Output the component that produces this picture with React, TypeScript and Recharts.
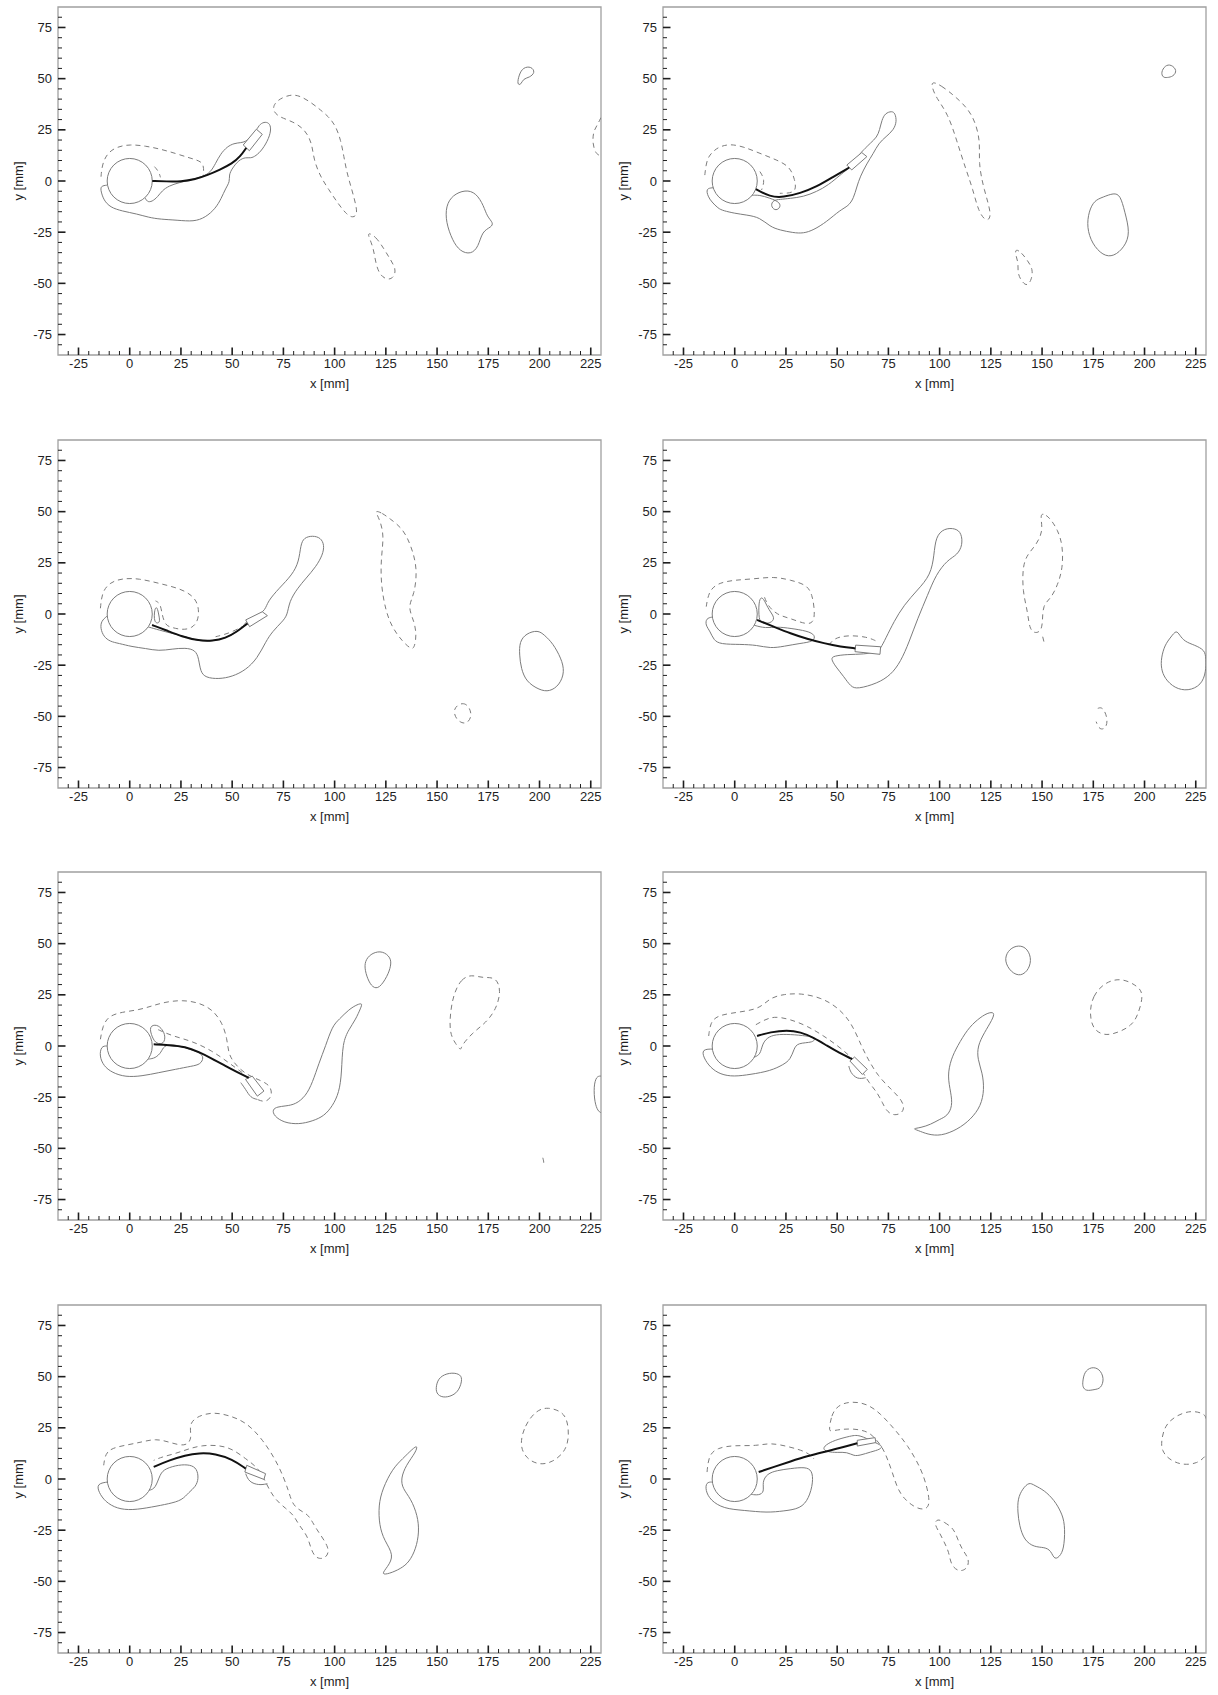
import React from "react";
import {
  ScatterChart,
  Scatter,
  XAxis,
  YAxis,
  ReferenceArea,
  Label,
} from "recharts";

type Pt = [number, number];

// axis extents (mm) and tick values
const X_MIN = -35;
const X_MAX = 230;
const Y_MIN = -85;
const Y_MAX = 85;
const X_MAJOR = [-25, 0, 25, 50, 75, 100, 125, 150, 175, 200, 225];
const Y_MAJOR = [-75, -50, -25, 0, 25, 50, 75];
const X_TICKS = [
  -30, -25, -20, -15, -10, -5, 0, 5, 10, 15, 20, 25, 30, 35, 40, 45, 50, 55,
  60, 65, 70, 75, 80, 85, 90, 95, 100, 105, 110, 115, 120, 125, 130, 135, 140,
  145, 150, 155, 160, 165, 170, 175, 180, 185, 190, 195, 200, 205, 210, 215,
  220, 225,
];
const Y_TICKS = [
  -80, -75, -70, -65, -60, -55, -50, -45, -40, -35, -30, -25, -20, -15, -10,
  -5, 0, 5, 10, 15, 20, 25, 30, 35, 40, 45, 50, 55, 60, 65, 70, 75, 80,
];
const CYLINDER_R = 11; // mm

// ---- frame 1 ----
const f1Lower: Pt[] = [[-10.8,-2],[-14.3,-2.4],[-14,-5.2],[-12.7,-9.3],[-9.5,-12.9],[-3.7,-14.7],[3.6,-16.1],[9.3,-17.8],[15,-18.7],[23.1,-19.1],[31.3,-19.9],[37,-17.8],[41.9,-13.4],[44.7,-8.5],[46.8,-3.6],[48.9,-0.3],[48.4,2.9],[50,6.2],[53.3,10.3],[56.6,11.6],[59,11.1],[61.5,12.2],[64.7,15.2],[68,20.9],[69.1,25.8],[68,28.5],[65.5,28.9],[63.1,27.4],[61.5,24.1],[59,21.4],[56.6,19.2],[54.1,18.7],[50.9,18.4],[47.6,16.8],[44.3,13.2],[41.9,8.6],[39.4,4.1],[35.4,2.1],[29.7,0.5],[24,-0.8],[19.1,-2.4],[15.8,-4.7],[13.7,-7.7],[10.9,-10.1],[8.5,-10.3],[7.5,-8.1]];
const f1Upper: Pt[] = [[-14,2.1],[-13.5,7.8],[-11.1,13.5],[-6.2,16.8],[0.3,17.9],[7.7,17.1],[15,15.6],[22.3,13.5],[29.7,11.1],[35.4,9.5],[36.2,6.2],[35.9,2.4]];
const f1UpperIn: Pt[] = [[12.1,7],[14.2,4.6],[15,1.8]];
const f1Shed: Pt[] = [[69.4,35.5],[71.9,39.6],[78.4,42.4],[83.3,41.6],[89,38],[93.1,34.7],[97,31.5],[100.5,27],[103,20],[104.5,12],[106,4],[108.4,-4.2],[110.5,-12],[111,-16.4],[109,-18],[106,-16.5],[102,-11.5],[97,-4],[93.1,2.1],[89.8,10.3],[89,18.4],[85.7,24.9],[80,29],[71.9,31.5]];
const f1Small: Pt[] = [[116,-25],[120,-27],[124,-33],[127,-38],[130,-43],[129,-47],[126,-48.5],[122,-46],[120,-40],[119,-33],[117,-28]];
const f1Vortex: Pt[] = [[157.5,-6.9],[163.8,-4.2],[169.1,-5.8],[172.8,-12.2],[174.4,-17.4],[177.5,-20.5],[176.5,-22.5],[172,-24.5],[170.2,-32.2],[166.5,-35.9],[161.2,-34.4],[157.5,-29.1],[154.3,-20.1],[154.3,-12.2]];
const f1Top: Pt[] = [[189,47],[190,52],[192,55.5],[196,56],[198,53],[195,50.5],[192,50],[191,47]];
const f1Edge: Pt[] = [[230,31],[228,27],[226.3,24.2],[225.8,18.5],[227.5,13],[230,12.4]];
const f1Plate: Pt[] = [[11,0],[18,-0.2],[25,-0.3],[32,0.8],[38,2.9],[44,5.5],[50,8.5],[54,12],[56.9,16.2]];
const f1Tail: Pt[] = [[55.4,17.6],[61.8,25.3],[64.7,22.8],[58.4,14.8]];

// ---- frame 2 ----
const f2Lower: Pt[] = [[-10.5,-3.3],[-14.1,-3.6],[-13,-7.7],[-11.3,-10.1],[-8.1,-13.4],[-5.6,-14.5],[0,-15.8],[5.8,-16.6],[12.3,-17.8],[17.2,-22.3],[22.1,-24],[28.6,-25.3],[33.5,-25.6],[38.4,-24],[44.9,-19.9],[51.4,-14.2],[55.5,-12.2],[58,-8.5],[59.6,-2.8],[61.2,2.1],[64.5,8.6],[67.7,13.5],[70.2,18.4],[73.9,21.7],[77.5,24.9],[79.1,29],[78.3,33.1],[76.7,34.2],[73.4,33.1],[71.8,29.8],[70.7,24.9],[69.4,21.4],[66.1,18.4],[63.7,16],[61.2,13.5],[57.9,8.6],[54.7,5.4],[51.4,2.9],[45.7,-2],[40,-5.2],[33.5,-7.7],[27,-8.5],[22.1,-9],[18.8,-9.3],[17.5,-12],[19.5,-14.5],[22,-13.5],[22.5,-10.5],[17,-8.3],[12,-6.8],[8.5,-7]];
const f2Upper: Pt[] = [[-14.6,2.9],[-14,8],[-12.9,11.9],[-10,15],[-7.3,16.8],[-2.4,18.1],[4.2,16.8],[12.3,13.5],[20.5,10.3],[27,7],[29.4,0.5],[30,-4.5],[27,-6],[22,-6]];
const f2UpperIn: Pt[] = [[12.3,4.6],[14.8,0.5],[13.1,-4.4]];
const f2Shed: Pt[] = [[96.2,48.6],[100.4,47],[108.4,40.7],[116.3,32.8],[120,19.6],[118.9,9],[121.6,-4.2],[125.8,-17.4],[122.7,-20.1],[118.9,-14.8],[116.3,-4.2],[112.6,6.3],[108.4,19.6],[104.1,32.8],[98.3,40.7],[96.2,46]];
const f2Small: Pt[] = [[137,-33],[140,-35],[143,-39],[145.5,-43],[145,-48],[142.7,-51.6],[140,-49],[138,-45],[138.5,-40],[137,-36]];
const f2Vortex: Pt[] = [[175.5,-9.5],[179.7,-7.9],[185,-5.8],[188.2,-6.9],[190.3,-14.8],[193,-25.4],[190.3,-32.2],[185,-37],[179.7,-36.5],[174.4,-30.7],[171.8,-22.7],[172.8,-14.8]];
const f2Top: Pt[] = [[208,53],[210,56.5],[213,57],[216,54],[214,51],[211,50.5],[209,50.5]];
const f2Plate: Pt[] = [[10.3,-4],[17.2,-7.7],[23.7,-8],[31.9,-6],[40,-2.8],[48.2,2.1],[55.9,6.6]];
const f2Tail: Pt[] = [[54.7,7.8],[62,13.9],[64.5,11.9],[57.1,5.4]];

// ---- frame 3 ----
const f3Lower: Pt[] = [[-11,-1],[-13.9,-3.4],[-14.3,-7],[-12.7,-11.1],[-9.5,-13.5],[-5.4,-14.3],[1.1,-16],[7.7,-16.8],[14.2,-18.1],[20.7,-17.1],[27.2,-16.5],[32.1,-17.6],[33.7,-21.7],[34.5,-28.2],[37,-31.1],[43.5,-31.8],[50,-30.6],[56.6,-27.4],[62.3,-21.7],[66.4,-13.5],[69.6,-8.6],[74.5,-3.7],[77,-0.5],[77.8,6],[81.9,12.6],[86,17.4],[90.9,23.1],[94.2,28.9],[95,33.7],[93.2,37.3],[89.2,38.3],[85,37.3],[83.4,33.7],[82.6,25.6],[79.3,19.1],[72.9,12.6],[67.2,6],[66.3,2],[62,-1],[57,-3],[55,-7],[50,-10.3],[43.5,-12.7],[37,-13.5],[32.1,-12.7],[27.2,-11.1],[20.7,-9.5],[14.2,-7.8],[9,-6.3]];
const f3Finger: Pt[] = [[11.7,-4.6],[12.1,2.8],[13.4,3.6],[14.2,-0.5],[15,-4.6]];
const f3Upper: Pt[] = [[-14.3,2.8],[-13.5,10.9],[-9.5,15.5],[-3.7,17.4],[4.4,17.4],[14.2,15],[24,12.6],[30.5,9.3],[33.7,4.4],[33.7,-2.9],[30.5,-7],[25.6,-7.8],[20,-6.5],[17.4,-5.4],[15.8,-0.5],[15,5.2],[12.6,6.4]];
const f3UpperIn: Pt[] = [[41.9,-11.1],[48.4,-9.5],[54.9,-6.2]];
const f3Shed: Pt[] = [[119.3,50.9],[123.4,49.2],[126.6,46.8],[133.2,41.9],[137.2,33.7],[140.5,22.3],[138.9,9.3],[135.6,3.6],[138.9,-3.7],[140,-10.3],[138.9,-16.8],[137.2,-17.1],[133.2,-13.5],[128.3,-7],[125,1.1],[122.6,14.2],[122.6,27.2],[124.2,38.6],[121.8,46.8]];
const f3Small: Pt[] = [[157.6,-46.1],[162.5,-42.9],[165.8,-45.3],[167.1,-50.2],[164.1,-54.3],[159.2,-51.8]];
const f3Vortex: Pt[] = [[190.2,-13.5],[193.5,-9.5],[199.2,-7.8],[202.4,-10.3],[206.5,-14.3],[210.6,-21.7],[212.3,-28.2],[209.8,-34.7],[204.9,-38],[200,-37.2],[193.5,-33.1],[191,-26.6],[190.2,-20.1]];
const f3Plate: Pt[] = [[10.9,-5.4],[17.4,-7.8],[25.6,-11.1],[33.7,-13],[40.3,-13.2],[46.8,-11.9],[52.5,-8.5],[57.5,-4.6]];
const f3Tail: Pt[] = [[56.6,-2.9],[64.7,1.1],[67.2,-0.8],[58.5,-6.2]];

// ---- frame 4 ----
const f4Lower: Pt[] = [[-11,-1.5],[-13.9,-2.1],[-14.3,-5.4],[-11.9,-8.6],[-10.3,-12.7],[-7,-14.8],[2.8,-14.8],[10.9,-15.2],[17.4,-16.8],[24,-15.8],[32.1,-14.3],[38.6,-13.5],[39.4,-10.3],[35.5,-8.3],[27.2,-7],[20.7,-6.2],[15,-7],[9.5,-5.5]];
const f4Finger: Pt[] = [[11.7,-2.9],[11.7,6],[12.9,8.5],[14.5,6.8],[16.6,2],[19.9,-2.1],[17.4,-4.6],[13.4,-4.6]];
const f4Arm: Pt[] = [[46.8,-21.7],[49.3,-25.8],[53.3,-30.6],[56.6,-35.5],[59.8,-36.7],[69.6,-33.9],[76.2,-29.8],[81,-23.3],[85.2,-13.5],[89.3,-2.1],[94.2,9.3],[98.1,19.1],[103.8,26.4],[108.7,28.9],[111.2,33.7],[110.7,39.4],[107.9,41.9],[102.2,41.9],[98.1,37.8],[97.3,28.9],[95.7,19.1],[89.2,11.7],[82.6,4.4],[77.7,-3.7],[73.7,-11.9],[71.2,-16.8],[69.6,-18.4],[63.1,-19.7],[54.9,-19.7],[48.4,-20.5]];
const f4Upper: Pt[] = [[-13.9,3.6],[-12.7,10.9],[-8.6,15],[-0.5,16.6],[9.3,17.1],[19.1,18.3],[27.2,16.6],[35.4,14.2],[37.8,9.3],[38.9,2.8],[38.9,-3.7],[35.4,-5.4],[27.2,-2.1],[20.7,-0.5],[15.8,4.4],[14.2,9.3]];
const f4UpperIn: Pt[] = [[46,-15.2],[48.4,-11.9],[54.9,-10.3],[64.7,-11.1],[69.6,-13.5]];
const f4Shed: Pt[] = [[149.5,49.2],[152,48.4],[154.4,46],[157.6,41.1],[160.1,33.7],[160.1,22.3],[157.6,14.2],[154.4,7.7],[150.3,4.4],[150.3,-3.7],[149.5,-8.6],[146.2,-9.5],[143.8,-7],[143,1.1],[140.5,10.9],[140.5,23.6],[143,29.3],[147.1,33.7],[150.3,40.2],[149.5,46]];
const f4ShedTip: Pt[] = [[150.3,-11.1],[151.1,-14.3]];
const f4Small: Pt[] = [[177.2,-46.1],[179.6,-45.3],[182.1,-51],[181.3,-55.9],[178,-56.7],[176.4,-52.6]];
const f4Vortex: Pt[] = [[208.1,-21.7],[209.8,-15.2],[213,-11.1],[215.5,-7.8],[217.1,-10.3],[219.6,-13.5],[224.5,-15.2],[229.4,-17.6],[230,-21.7],[230,-28.2],[227.8,-34.7],[221.3,-37.7],[214.7,-36.3],[209.8,-31.5],[208.1,-26.6]];
const f4Plate: Pt[] = [[10.9,-2.9],[19.1,-6.2],[27.2,-9.5],[35.4,-12.2],[43.5,-14.3],[51.8,-16],[58.9,-16.8]];
const f4Tail: Pt[] = [[59,-15.2],[71.2,-16],[70.9,-19.7],[58.7,-18.4]];

// ---- frame 5 ----
const f5Lower: Pt[] = [[-11,0],[-13.9,0],[-14.8,-4.9],[-12.7,-9.8],[-8.6,-13],[-2.1,-15.2],[6,-14.7],[14.2,-13],[22.3,-11.4],[30.5,-9.8],[34.5,-9],[36.2,-5.7],[34.5,-3.3],[27.2,-0.8],[20.7,1],[16.5,0],[15.5,-3],[12.5,-6],[9,-6.4]];
const f5Finger: Pt[] = [[9.3,9.8],[13.4,10.6],[16,8],[17.4,5],[16.8,1],[13,1],[11,4]];
const f5TailFringe: Pt[] = [[54.2,-17.9],[56.6,-21.2],[59,-25.3],[62.3,-26.1]];
const f5Upper: Pt[] = [[-14.3,3.3],[-13.2,9.8],[-10.3,14.7],[-3.7,16.6],[4.4,17.6],[10.9,19.6],[17.4,21.5],[25.6,22.5],[33.7,21.2],[40.3,17.9],[45.2,11.4],[47.6,3.3],[48.1,-3.3],[50.7,-8.2],[56.5,-13.9],[64.7,-17.1],[68.8,-19.6],[69.6,-24.5],[66.3,-27.7],[62.3,-26.1]];
const f5UpperIn: Pt[] = [[54.9,-13],[48.4,-8.2],[40.3,-2.4],[30.5,2.4],[20.7,4.9],[13.4,8.2]];
const f5Arm: Pt[] = [[69.6,-31],[70.4,-34.2],[75.3,-37.5],[82.6,-38.3],[89.2,-36.7],[94.9,-34.2],[99,-29.3],[102.2,-22.8],[103.5,-13],[103.8,1.6],[107,8.2],[110.3,13],[112.8,18.7],[113.6,20.9],[111.2,20.4],[107,17.9],[102.2,13],[98.9,9.8],[95.6,0],[92.4,-8.2],[89.2,-17.9],[85.9,-24.5],[81,-28.5],[76.1,-29.3],[72.1,-29.7]];
const f5Top: Pt[] = [[115.2,42.4],[118.5,45.6],[123.4,46.5],[127.5,43.2],[127.5,39.1],[125.8,34.2],[121.8,28],[118.5,28.5],[116.1,32.6],[114.5,38.3]];
const f5Shed: Pt[] = [[158.4,26.1],[161.7,32.6],[166.6,35],[172.3,33.1],[178.8,33.9],[181.3,26.9],[178.8,17.9],[173.9,11.4],[167.3,6.5],[161.7,0],[161.7,-2.4],[159.2,0.8],[155.9,6.5],[156.6,17.9]];
const f5Speck: Pt[] = [[201.6,-54.6],[202.4,-57.8],[201,-56.5]];
const f5Edge: Pt[] = [[230,-14.7],[227.8,-14.7],[226.4,-19.6],[226.9,-27.7],[228.5,-31.8],[230,-32.6]];
const f5Plate: Pt[] = [[11.7,0.8],[19.1,0.5],[27.2,-0.3],[33.7,-2.9],[40.3,-6.2],[46.8,-9.8],[52.5,-12.8],[58.1,-15.5]];
const f5Tail: Pt[] = [[56.5,-16.3],[59.8,-14.7],[65.5,-22],[62.3,-24.5]];

// ---- frame 6 ----
const f6Lower: Pt[] = [[-11,-1.5],[-16,-1.6],[-15.2,-5.7],[-11.9,-10.6],[-7,-13.9],[-0.5,-15],[7.7,-13.9],[17.4,-12.2],[24,-9],[27.2,-6.5],[28.9,-1.6],[30.5,1.6],[38.6,1.6],[39.4,4.1],[35.4,4.9],[27.2,5.7],[19.9,5.7],[15.8,4.1],[13.4,0.8],[12.6,-4.1],[9.5,-5.5]];
const f6TailFringe: Pt[] = [[55.7,-9.8],[56.5,-13],[59.8,-16.3],[63.9,-15.5]];
const f6Upper: Pt[] = [[-12.7,4.9],[-11.9,11.4],[-8.6,14.7],[-2.1,16],[6,17.1],[12.6,18.7],[17.4,23.6],[24,25.3],[32.1,25.8],[42.4,23.6],[50.5,18.7],[57,11.4],[61.8,0],[65.1,-6.5],[69.9,-14.7],[76.4,-21.2],[82.1,-26.9],[82.9,-31.8],[78.8,-34.2],[74.5,-32.6],[72.1,-27.7],[69.6,-22.8],[65.5,-17.9],[62,-12],[59.8,-8.2],[51.6,-0.8],[43.5,4.9],[35.4,9.8],[27.2,13],[19.1,14.7],[13.4,12.2],[9.3,9.8]];
const f6Arm: Pt[] = [[86.7,-40.4],[90.8,-39.9],[95.7,-38.3],[99.8,-35.9],[103.8,-34.2],[106.3,-29.3],[105.5,-22.8],[103.8,-14.7],[105.5,-6.5],[108.7,0],[113.6,8.2],[118.5,13],[123.4,16.3],[127,16.6],[125.8,13],[121.8,6.5],[118.5,0],[118.5,-6.5],[120.9,-13],[121.8,-21.2],[120.2,-29.3],[115.2,-35.9],[108.7,-40.8],[100.6,-44],[94.1,-43.2],[89.2,-41.1]];
const f6Top: Pt[] = [[131.5,41.6],[133.2,46.5],[137.2,49.2],[142.1,48.6],[144.9,43.2],[143.7,37.5],[139.7,33.9],[134.8,35.9]];
const f6Shed: Pt[] = [[173.1,16.3],[174.7,24.5],[180.4,31],[188.6,33.4],[196.7,29.3],[199.7,25.3],[196.7,14.7],[193.5,9.8],[187,6.5],[180.4,4.9],[174.7,8.2]];
const f6Plate: Pt[] = [[10.9,4.9],[17.4,6.8],[25.6,7.8],[32.1,6.8],[38.6,4.1],[45.2,0],[50.9,-3.3],[57.3,-6.4]];
const f6Tail: Pt[] = [[56.2,-7.3],[58.5,-5.4],[64.7,-11.4],[62.3,-13.9]];

// ---- frame 7 ----
const f7Lower: Pt[] = [[-11,-1.5],[-16,-2.3],[-15.2,-6.4],[-11.9,-11.2],[-6.2,-14.5],[1.1,-15.3],[10.9,-13.7],[19.1,-12.1],[25.6,-10.4],[28.9,-6.4],[32.1,-3.9],[33.7,0.2],[32.8,5.1],[29.6,7],[24,7],[17.4,5.1],[14.8,2.6],[12.6,-4.7],[9.5,-5.5]];
const f7TailFringe: Pt[] = [[56.6,2.6],[58.2,-1.5],[63.1,-3.1],[67.2,-2.3]];
const f7Upper: Pt[] = [[-12.7,6.7],[-11.9,12.4],[-8.6,15.2],[-0.5,16.8],[6,18.1],[12.6,19.7],[19.1,18.1],[27.2,15.6],[30.5,19.7],[28.9,26.2],[32.1,30.3],[40.3,32.8],[48.4,31.1],[56.6,27.9],[64.7,19.7],[72.9,6.7],[77.8,-6.4],[79.5,-12.9],[84.4,-16.1],[87.6,-17.8],[90.8,-24.3],[98.1,-34.1],[95.7,-39],[90.8,-39],[88.4,-34.1],[86.7,-27.5],[82.6,-22.7],[80.2,-17.8],[76.3,-14.5],[70.4,-9.6],[66.3,-1.5],[63.1,5.1],[56.6,9.9],[50,14.8],[43.5,16.5],[35.4,16.5],[28.9,14.8],[22.3,12.4],[15.8,10.8],[11.7,9.1]];
const f7Arm: Pt[] = [[122.6,-46.8],[125.8,-43],[129.1,-37.3],[124.2,-30],[121.8,-22.7],[121.4,-12.9],[123.4,-4.7],[128.3,5.1],[133.2,9.9],[138.1,14.8],[140.5,16.5],[139.7,13.2],[134.8,6.7],[132.3,0.2],[133.2,-4.7],[137.2,-9.6],[140.5,-17.8],[141.3,-25.9],[139.7,-34.1],[136.4,-40.6],[132.3,-43.8],[126.6,-46.3]];
const f7Top: Pt[] = [[149.5,45.8],[151.1,49.9],[156,52],[160.8,51.5],[162.5,49.1],[160.8,43.4],[157.6,40.6],[152.7,39.6],[149.5,41.7]];
const f7Shed: Pt[] = [[190.2,16.5],[192.7,26.2],[198.4,33.6],[204.1,35.2],[211.4,32.8],[213.8,27.9],[214.4,19.7],[212.3,13.2],[206.6,8.3],[200,6.7],[193.5,9.9]];
const f7Plate: Pt[] = [[11.7,5.9],[19.1,9.1],[27.2,11.6],[33.7,12.7],[41.9,12.4],[50,9.6],[56.6,5.1]];
const f7Tail: Pt[] = [[57.1,6.7],[66.3,2.6],[65.5,-0.2],[56.2,3.4]];

// ---- frame 8 ----
const f8Lower: Pt[] = [[-10.9,-1.5],[-13.9,-1.5],[-14.3,-5.5],[-11.9,-10.4],[-5.4,-14.5],[4.4,-15.3],[15.8,-16.5],[24,-15.6],[32.1,-14.5],[36.2,-9.6],[38.3,-1.5],[37.8,4.2],[34.5,5.9],[27.2,5.1],[20.7,4.2],[15.8,2.6],[13.4,-1.5],[14.5,-6.4],[11.7,-8],[8,-7.5]];
const f8TailSheath: Pt[] = [[42.7,14.8],[45.2,17.3],[50.2,19.4],[56.6,21],[59,21.4],[62,21],[69.6,17.3],[72.1,16.1],[71.2,14.5],[66.3,13.2],[61.3,11.6],[58.2,11.2],[54.9,13.2],[50,12.9],[45.2,13.2]];
const f8Upper: Pt[] = [[-13.5,3.4],[-12.7,11.6],[-8.6,15.2],[-0.5,16.5],[10.9,16.1],[17.4,17.8],[27.2,15.6],[35.4,13.2],[38.6,9.9]];
const f8Shed: Pt[] = [[46,23.8],[47.1,31.1],[50.2,36],[56.6,38],[64.7,36.8],[71.2,31.9],[77.8,24.6],[84.4,16.5],[91,5.1],[94.1,-4.7],[95.4,-12.9],[92.4,-15.3],[87.5,-13.7],[82.6,-9.6],[79.4,-4.7],[76.9,3.4],[74.5,9.9],[72.1,15.6],[68,20.5],[64.7,23.3],[58.2,24.6],[51.7,24.3],[46.8,23.3]];
const f8Small: Pt[] = [[98.9,-19.4],[102.2,-21],[107,-24.3],[108.7,-29.2],[111.2,-34.9],[114.5,-39],[113.7,-43.8],[109.5,-45.5],[105.5,-42.2],[104.6,-35.7],[102.2,-30.8],[99.8,-25.9],[97.3,-21.8]];
const f8Vortex: Pt[] = [[138.1,-9.6],[140.5,-4.7],[143.7,-1.5],[146.2,-3.1],[151.1,-5.5],[156,-10.4],[159.3,-16.1],[161.2,-21.8],[160.9,-32.4],[159.3,-37.3],[156,-39.8],[154.4,-34.9],[151.1,-33.3],[146.2,-33.3],[141.3,-30],[138.9,-22.7],[138.1,-16.1]];
const f8Top: Pt[] = [[169.8,47.4],[170.6,52.3],[173.9,54.8],[178,54],[180.4,49.1],[178.8,44.2],[175.5,43.7],[171.4,42.9],[169.8,45]];
const f8Edge: Pt[] = [[230,29.5],[229.4,31.9],[222.8,33.6],[215.5,31.1],[209.8,26.2],[208.1,18.1],[208.5,14],[211.4,9.9],[217.9,6.7],[226.1,7.5],[230,11.6]];
const f8Plate: Pt[] = [[11.7,3.4],[19.1,5.9],[27.2,8.6],[35.4,11.2],[43.5,13.2],[51.6,15.2],[59.8,17.5]];
const f8Tail: Pt[] = [[59.8,18.9],[68.5,20.2],[68.9,17.8],[59.8,16.1]];

type Contour = { pts: Pt[]; dashed?: boolean; closed?: boolean };
type Frame = { contours: Contour[]; plate: Pt[]; tail: Pt[] };

const S = (pts: Pt[], closed = false): Contour => ({ pts, closed });
const D = (pts: Pt[], closed = false): Contour => ({ pts, closed, dashed: true });

const FRAMES: Frame[] = [
  {
    contours: [S(f1Lower), D(f1Upper), D(f1UpperIn), D(f1Shed, true), D(f1Small, true), S(f1Vortex, true), S(f1Top, true), D(f1Edge)],
    plate: f1Plate,
    tail: f1Tail,
  },
  {
    contours: [S(f2Lower), D(f2Upper), D(f2UpperIn), D(f2Shed, true), D(f2Small, true), S(f2Vortex, true), S(f2Top, true)],
    plate: f2Plate,
    tail: f2Tail,
  },
  {
    contours: [S(f3Lower), S(f3Finger, true), D(f3Upper), D(f3UpperIn), D(f3Shed, true), D(f3Small, true), S(f3Vortex, true)],
    plate: f3Plate,
    tail: f3Tail,
  },
  {
    contours: [S(f4Lower), S(f4Finger, true), S(f4Arm, true), D(f4Upper), D(f4UpperIn), D(f4Shed, true), D(f4ShedTip), D(f4Small), S(f4Vortex, true)],
    plate: f4Plate,
    tail: f4Tail,
  },
  {
    contours: [S(f5Lower), S(f5Finger, true), S(f5TailFringe), D(f5Upper), D(f5UpperIn), S(f5Arm, true), S(f5Top, true), D(f5Shed, true), D(f5Speck), S(f5Edge)],
    plate: f5Plate,
    tail: f5Tail,
  },
  {
    contours: [S(f6Lower), S(f6TailFringe), D(f6Upper), S(f6Arm, true), S(f6Top, true), D(f6Shed, true)],
    plate: f6Plate,
    tail: f6Tail,
  },
  {
    contours: [S(f7Lower), S(f7TailFringe), D(f7Upper), S(f7Arm, true), S(f7Top, true), D(f7Shed, true)],
    plate: f7Plate,
    tail: f7Tail,
  },
  {
    contours: [S(f8Lower), S(f8TailSheath, true), D(f8Upper), D(f8Shed, true), D(f8Small, true), S(f8Vortex, true), S(f8Top, true), D(f8Edge)],
    plate: f8Plate,
    tail: f8Tail,
  },
];

// layout (px)
const PLOT_W = 543;
const PLOT_H = 348;
const Y_AXIS_W = 50;
const MARGIN_LEFT = 8;
const MARGIN_TOP = 7;
const CHART_H = 432;
const ROW_TOPS = [0, 433, 865, 1298];
const COL_LEFTS = [0, 605];
const PX_PER_MM = PLOT_W / (X_MAX - X_MIN);

const FONT = "'Liberation Sans', Arial, Helvetica, sans-serif";
const INK = "#1e1e1e";
const CONTOUR = "#7c7c7c";
const FRAME = "#a0a0a0";

const toRows = (pts: Pt[]) => pts.map(([x, y]) => ({ x, y }));
const noMarker = () => <g />;

const XTick = (props: any) => {
  const { x, y, payload } = props;
  const major = X_MAJOR.includes(payload.value);
  return (
    <g>
      <line x1={x} x2={x} y1={y} y2={y - (major ? 7.5 : 4)} stroke={INK} strokeWidth={major ? 1.6 : 1} />
      {major && (
        <text x={x} y={y + 13} textAnchor="middle" fontSize={13} fontFamily={FONT} fill={INK}>
          {payload.value}
        </text>
      )}
    </g>
  );
};

const YTick = (props: any) => {
  const { x, y, payload } = props;
  const major = Y_MAJOR.includes(payload.value);
  return (
    <g>
      <line x1={x} x2={x + (major ? 7.5 : 4)} y1={y} y2={y} stroke={INK} strokeWidth={major ? 1.6 : 1} />
      {major && (
        <text x={x - 6} y={y + 4.5} textAnchor="end" fontSize={13} fontFamily={FONT} fill={INK}>
          {payload.value}
        </text>
      )}
    </g>
  );
};

const XTitle = (props: any) => {
  const vb = props.viewBox || { x: 58, y: 355, width: PLOT_W };
  return (
    <text x={vb.x + vb.width / 2} y={vb.y + 33} textAnchor="middle" fontSize={13} fontFamily={FONT} fill={INK}>
      x [mm]
    </text>
  );
};

const YTitle = (props: any) => {
  const vb = props.viewBox || { x: 8, y: 7, height: PLOT_H };
  const cx = vb.x + 10;
  const cy = vb.y + vb.height / 2;
  return (
    <text
      x={cx}
      y={cy}
      transform={`rotate(-90, ${cx}, ${cy})`}
      textAnchor="middle"
      dominantBaseline="central"
      fontSize={13}
      fontFamily={FONT}
      fill={INK}
    >
      y [mm]
    </text>
  );
};

function Panel({ frame, width }: { frame: Frame; width: number }) {
  const rightMargin = width - MARGIN_LEFT - Y_AXIS_W - PLOT_W;
  return (
    <ScatterChart
      width={width}
      height={CHART_H}
      margin={{ top: MARGIN_TOP, right: rightMargin, bottom: 0, left: MARGIN_LEFT }}
    >
      <XAxis
        type="number"
        dataKey="x"
        domain={[X_MIN, X_MAX]}
        allowDataOverflow
        ticks={X_TICKS}
        interval={0}
        axisLine={false}
        tickLine={false}
        tickSize={0}
        tickMargin={0}
        tick={<XTick />}
        height={CHART_H - MARGIN_TOP - PLOT_H}
      >
        <Label content={<XTitle />} />
      </XAxis>
      <YAxis
        type="number"
        dataKey="y"
        domain={[Y_MIN, Y_MAX]}
        allowDataOverflow
        ticks={Y_TICKS}
        interval={0}
        axisLine={false}
        tickLine={false}
        tickSize={0}
        tickMargin={0}
        tick={<YTick />}
        width={Y_AXIS_W}
      >
        <Label content={<YTitle />} />
      </YAxis>
      <ReferenceArea
        x1={X_MIN}
        x2={X_MAX}
        y1={Y_MIN}
        y2={Y_MAX}
        fill="none"
        fillOpacity={0}
        stroke={FRAME}
        strokeWidth={1.3}
        ifOverflow="visible"
      />
      {frame.contours.map((c, i) => (
        <Scatter
          key={i}
          data={toRows(c.pts)}
          line={{
            stroke: CONTOUR,
            strokeWidth: 1,
            strokeDasharray: c.dashed ? "5 4" : undefined,
          }}
          lineType="joint"
          lineJointType={c.closed ? "basisClosed" : "basis"}
          shape={noMarker}
          legendType="none"
          isAnimationActive={false}
        />
      ))}
      <Scatter
        data={[{ x: 0, y: 0 }]}
        shape={(p: any) => (
          <circle cx={p.cx} cy={p.cy} r={CYLINDER_R * PX_PER_MM} fill="#fff" stroke={CONTOUR} strokeWidth={1} />
        )}
        legendType="none"
        isAnimationActive={false}
      />
      <Scatter
        data={toRows(frame.tail)}
        line={{ stroke: CONTOUR, strokeWidth: 1, fill: "#fff" }}
        lineType="joint"
        lineJointType="linearClosed"
        shape={noMarker}
        legendType="none"
        isAnimationActive={false}
      />
      <Scatter
        data={toRows(frame.plate)}
        line={{ stroke: "#111", strokeWidth: 2 }}
        lineType="joint"
        lineJointType="basis"
        shape={noMarker}
        legendType="none"
        isAnimationActive={false}
      />
    </ScatterChart>
  );
}

export default function App() {
  return (
    <div
      style={{
        position: "absolute",
        left: 0,
        top: 0,
        width: 1218,
        height: 1695,
        background: "#fff",
        fontFamily: FONT,
      }}
    >
      {FRAMES.map((f, i) => {
        const col = i % 2;
        const row = Math.floor(i / 2);
        return (
          <div
            key={i}
            style={{ position: "absolute", left: COL_LEFTS[col], top: ROW_TOPS[row] }}
          >
            <Panel frame={f} width={col === 0 ? 605 : 613} />
          </div>
        );
      })}
    </div>
  );
}
